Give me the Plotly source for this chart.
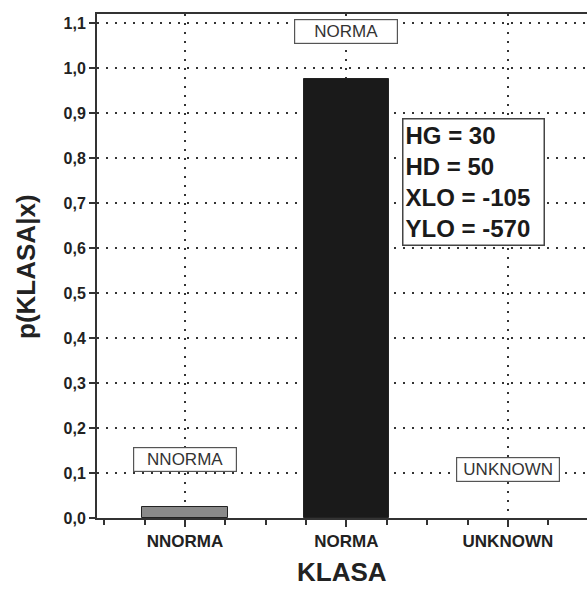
import plotly.graph_objects as go

categories = ["NNORMA", "NORMA", "UNKNOWN"]
probabilities = [0.025, 0.975, 0.0]
bar_colors = ["#8a8a8a", "#1a1a1a", "#1a1a1a"]
label_y = [0.129, 1.082, 0.107]
params_text = ["HG = 30", "HD = 50", "XLO = -105", "YLO = -570"]
y_ticks = [i / 10 for i in range(12)]

xpos = list(range(len(categories)))
FONT = "Arial, Liberation Sans, sans-serif"

fig = go.Figure()
fig.add_trace(go.Bar(
    x=xpos, y=probabilities, width=0.53,
    marker=dict(color=bar_colors,
                line=dict(color="#222", width=[1 if v > 0 else 0 for v in probabilities])),
    showlegend=False, hoverinfo="skip",
))

for xi, cat, ly in zip(xpos, categories, label_y):
    fig.add_annotation(
        x=xi, y=ly, text=cat, showarrow=False,
        font=dict(family=FONT, size=17, color="#333"),
        bgcolor="white", bordercolor="#555", borderwidth=1.2,
        borderpad=2, width=98, xanchor="center", yanchor="middle",
    )

fig.add_annotation(
    x=1.344, y=0.747, xref="x", yref="y",
    text="<br>".join(params_text), showarrow=False, align="left",
    font=dict(family=FONT, size=24, color="#1a1a1a", weight="bold"),
    bgcolor="white", bordercolor="#444", borderwidth=1.5, borderpad=2,
    width=136, xanchor="left", yanchor="middle",
)

# axis titles
fig.add_annotation(
    x=0.5, y=-0.1395, xref="paper", yref="paper", text="KLASA", showarrow=False,
    font=dict(family=FONT, size=26, color="#222", weight="bold"),
    xanchor="center", yanchor="bottom", borderpad=0,
)
fig.add_annotation(
    x=-0.145, y=0.5, xref="paper", yref="paper", text="p(KLASA|x)", showarrow=False,
    textangle=-90,
    font=dict(family=FONT, size=26, color="#222", weight="bold"),
    xanchor="center", yanchor="middle",
)

fig.update_layout(
    width=587, height=589,
    margin=dict(l=97, r=0, t=14, b=71),
    plot_bgcolor="white", paper_bgcolor="white",
    separators=",.",
    font=dict(family=FONT, color="#222"),
    bargap=0,
)

GRID = dict(showgrid=True, gridcolor="#333", griddash="2px,7px", gridwidth=2)

fig.update_xaxes(
    range=[-0.545, 2.49],
    tickvals=xpos, ticktext=categories,
    tickfont=dict(family=FONT, size=17, color="#222", weight="bold"),
    ticks="outside", ticklen=7, tickwidth=1.5, tickcolor="#333",
    minor=dict(dtick=0.25, tick0=0, ticks="outside", ticklen=5, tickwidth=1.5, tickcolor="#333", showgrid=False),
    showline=True, linecolor="#333", linewidth=2, mirror=True,
    zeroline=False, **GRID,
)

fig.update_yaxes(
    range=[0, 1.12],
    tickvals=y_ticks, tickformat=".1f",
    tickfont=dict(family=FONT, size=16, color="#222", weight="bold"),
    ticks="outside", ticklen=6, tickwidth=1.5, tickcolor="#333",
    showline=True, linecolor="#333", linewidth=2,
    zeroline=False, **GRID,
)

fig.write_html("out.html", config={"displayModeBar": False},
               post_script="document.body.style.margin='0';document.body.style.overflow='hidden';")
